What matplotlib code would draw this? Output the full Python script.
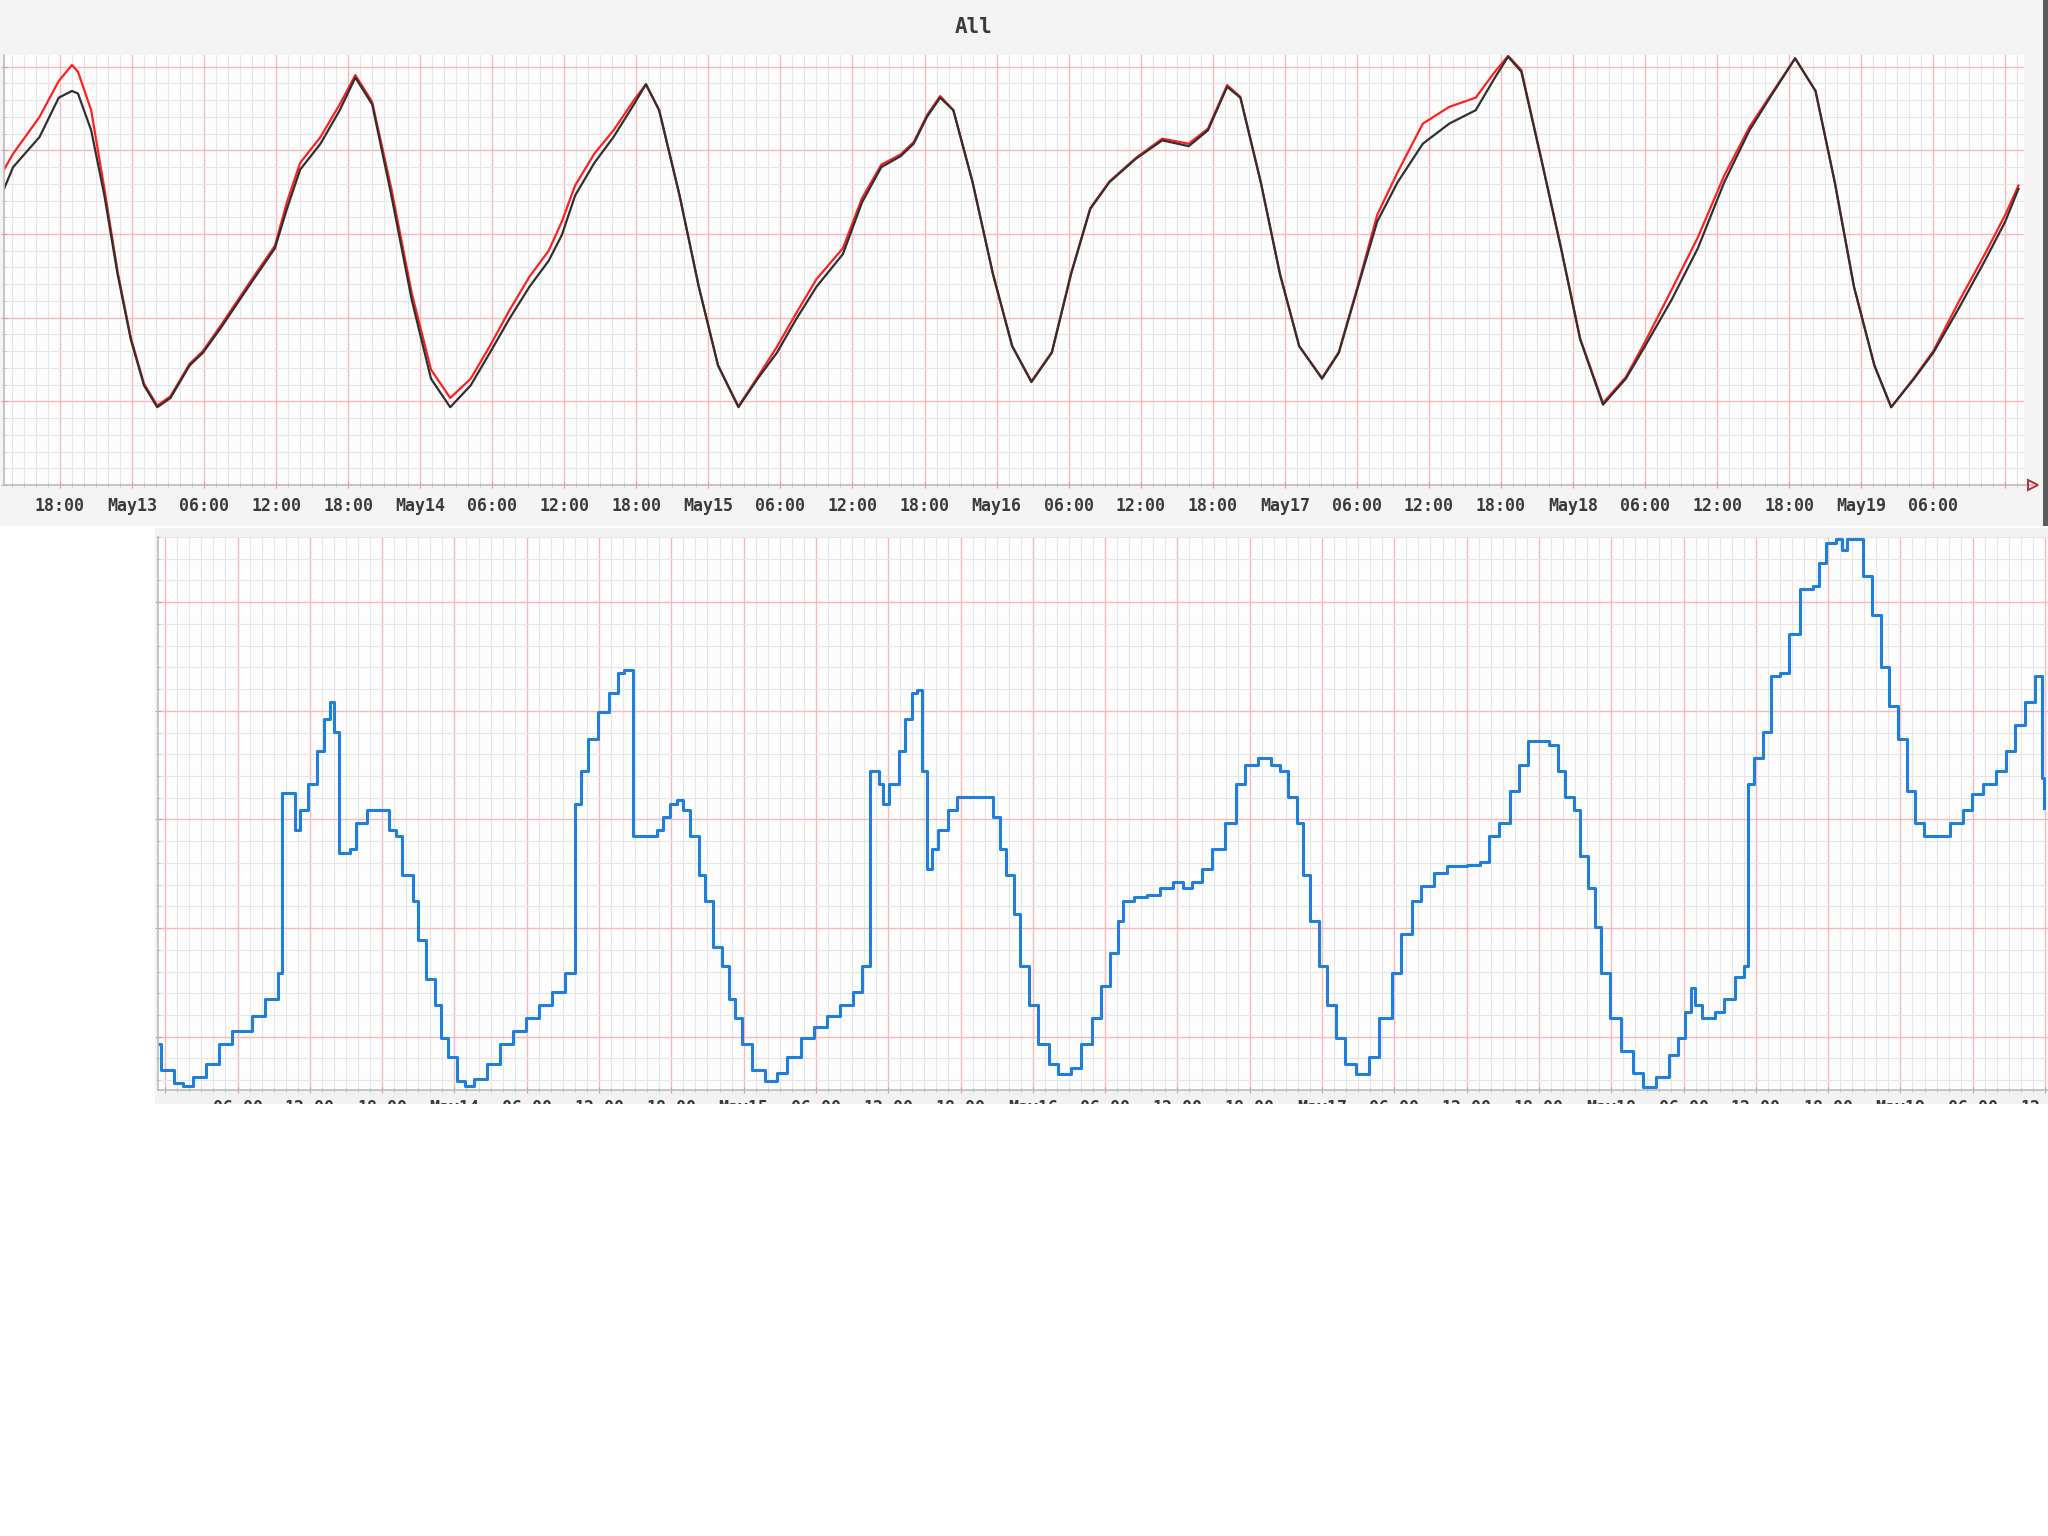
import matplotlib
matplotlib.use("Agg")
import matplotlib.pyplot as plt
from matplotlib.patches import Rectangle
from matplotlib.ticker import MultipleLocator, FixedLocator

# hours relative to May13 00:00
top_hours = [-10.66, -9.9, -7.7, -6.1, -5.0, -4.5, -3.4, -2.3, -1.2, -0.1, 1.0, 2.1, 3.2, 4.8, 5.9,
             7.5, 9.7, 11.9, 12.9, 14.0, 15.7, 17.3, 18.6, 20.0, 21.6, 23.3, 24.9, 26.5, 28.2, 29.8,
             31.4, 33.1, 34.7, 35.8, 36.9, 38.5, 40.1, 41.8, 42.8, 43.9, 45.6, 47.2, 48.8, 50.5, 52.1,
             53.7, 55.3, 57.0, 59.2, 60.8, 62.4, 64.0, 65.1, 66.2, 67.3, 68.4, 70.0, 71.7, 73.3, 74.9,
             76.6, 78.2, 79.8, 81.4, 83.6, 85.8, 88.0, 89.6, 91.2, 92.3, 94.0, 95.6, 97.2, 99.1, 100.5,
             102.1, 103.7, 105.4, 107.5, 109.7, 111.9, 113.5, 114.6, 115.7, 117.3, 119.0, 120.6, 122.5,
             124.4, 126.0, 128.2, 130.4, 132.6, 134.7, 136.4, 138.5, 140.2, 141.8, 143.4, 145.1, 146.5,
             148.4, 150.0, 152.2, 154.3, 156.0, 157.1]
top_black = [35.4, 38.0, 41.6, 46.3, 47.1, 46.8, 42.4, 34.6, 25.2, 17.4, 11.9, 9.3, 10.4, 14.3, 15.8,
             19.0, 23.7, 28.3, 33.0, 37.7, 40.8, 44.8, 48.7, 45.5, 34.6, 22.1, 12.7, 9.3, 11.9, 15.8,
             19.8, 23.7, 26.8, 29.9, 34.6, 38.5, 41.6, 45.5, 47.9, 44.8, 34.6, 23.7, 14.3, 9.3, 12.7,
             15.8, 19.8, 23.7, 27.6, 33.8, 38.0, 39.3, 40.8, 44.0, 46.3, 44.8, 36.2, 25.2, 16.6, 12.3,
             15.8, 25.2, 33.0, 36.2, 39.0, 41.2, 40.5, 42.4, 47.6, 46.3, 36.2, 25.2, 16.6, 12.7, 15.8,
             23.7, 31.5, 36.2, 40.8, 43.2, 44.8, 48.7, 51.2, 49.4, 39.3, 28.3, 17.4, 9.6,
             12.7, 16.6, 22.1, 28.3, 36.2, 42.4, 46.3, 51.0, 47.1, 36.2, 23.7, 14.3, 9.3,
             12.7, 15.8, 21.3, 26.8, 31.5, 35.4]
top_red = [37.7, 39.6, 44.0, 48.3, 50.2, 49.4, 44.8, 35.4, 25.5, 17.6, 12.1, 9.5, 10.6, 14.5, 16.0,
           19.3, 24.0, 28.6, 33.8, 38.5, 41.6, 45.5, 49.0, 45.8, 35.4, 22.9, 13.8, 10.4, 12.7, 16.6,
           20.8, 24.9, 28.0, 31.5, 35.8, 39.6, 42.4, 46.0, 47.9, 44.8, 34.6, 23.7, 14.3, 9.4, 12.9,
           16.5, 20.5, 24.6, 28.3, 34.3, 38.3, 39.5, 41.0, 44.2, 46.5, 44.8, 36.2, 25.2, 16.6, 12.4,
           15.9, 25.3, 33.1, 36.3, 39.1, 41.4, 40.8, 42.6, 47.8, 46.4, 36.2, 25.2, 16.6, 12.8, 15.9,
           23.9, 32.3, 37.4, 43.2, 45.2, 46.3, 49.4, 51.3, 49.6, 39.4, 28.4, 17.5, 9.8,
           12.9, 17.1, 23.3, 29.6, 37.0, 42.8, 46.5, 51.0, 47.1, 36.2, 23.7, 14.3, 9.3,
           12.8, 16.0, 22.1, 27.6, 32.3, 35.8]

blue_hours = [-0.6, -0.39, 0.69, 1.45, 2.32, 3.40, 4.49, 5.57, 7.20, 8.28, 9.37, 9.69, 10.78, 11.21,
              11.86, 12.62, 13.16, 13.70, 14.03, 14.46, 15.33, 15.87, 16.74, 18.58, 19.12, 19.66,
              20.53, 20.96, 21.62, 22.37, 22.92, 23.46, 24.22, 24.87, 25.63, 26.71, 27.79, 28.88,
              29.96, 31.05, 32.13, 33.21, 33.97, 34.51, 35.06, 35.92, 36.79, 37.55, 38.09, 38.85,
              40.80, 41.34, 41.89, 42.43, 42.97, 43.51, 44.27, 44.81, 45.46, 46.22, 46.76, 47.31,
              47.85, 48.72, 49.80, 50.77, 51.64, 52.73, 53.81, 54.89, 55.98, 57.06, 57.82, 58.47,
              59.23, 59.56, 60.10, 60.86, 61.40, 61.94, 62.37, 62.81, 63.24, 63.67, 64.11, 64.98,
              65.73, 68.66, 69.31, 69.74, 70.40, 70.94, 71.70, 72.45, 73.32, 74.08, 75.16, 76.03,
              76.90, 77.66, 78.42, 79.07, 79.50, 80.37, 81.45, 82.54, 83.62, 84.49, 85.25, 86.00,
              86.87, 87.96, 88.82, 89.58, 90.67, 91.75, 92.51, 93.16, 93.92, 94.46, 95.00, 95.76,
              96.41, 97.17, 97.93, 98.80, 99.88, 100.75, 101.83, 102.59, 103.46, 104.22, 105.30,
              106.38, 108.01, 109.09, 109.85, 110.72, 111.59, 112.35, 113.10, 114.84, 115.60,
              116.14, 116.90, 117.44, 118.09, 118.63, 119.18, 119.93, 120.80, 121.78, 122.64,
              123.73, 124.81, 125.57, 126.11, 126.65, 126.98, 127.52, 128.61, 129.36, 130.23,
              130.99, 131.32, 131.86, 132.62, 133.27, 134.03, 134.79, 135.66, 136.74, 137.28,
              137.82, 138.69, 139.12, 139.56, 140.86, 141.62, 142.37, 143.02, 143.78, 144.54,
              145.19, 145.95, 148.12, 149.20, 149.96, 150.83, 151.91, 152.78, 153.54, 154.30,
              155.17, 155.71, 155.93]
blue_vals = [9.30, 6.90, 5.71, 5.47, 6.30, 7.50, 9.30, 10.50, 11.93, 13.49, 15.89, 32.42, 29.07, 30.86,
             33.26, 36.26, 39.25, 40.81, 38.05, 26.91, 27.27, 29.67, 30.86, 29.07, 28.47, 24.87,
             22.48, 18.88, 15.29, 12.89, 9.90, 8.10, 5.95, 5.47, 6.07, 7.50, 9.30, 10.50,
             11.70, 12.89, 14.09, 15.89, 31.46, 34.46, 37.45, 39.85, 41.65, 43.44, 43.80, 28.47,
             29.07, 30.27, 31.46, 31.82, 30.86, 28.47, 24.87, 22.48, 18.29, 16.49, 13.49, 11.70,
             9.30, 6.90, 5.95, 6.66, 8.10, 9.90, 10.86, 11.93, 12.89, 14.09, 16.49, 34.46,
             33.26, 31.46, 33.26, 36.26, 39.25, 41.65, 41.89, 34.46, 25.47, 27.27, 29.07, 30.86,
             32.06, 30.27, 27.27, 24.87, 21.28, 16.49, 12.89, 9.30, 7.50, 6.55, 7.15, 9.30,
             11.70, 14.69, 17.69, 20.68, 22.48, 22.84, 23.08, 23.68, 24.28, 23.68, 24.28, 25.47,
             27.27, 29.67, 33.26, 35.06, 35.66, 35.06, 34.46, 32.06, 29.67, 24.87, 20.68, 16.49,
             12.89, 9.90, 7.50, 6.55, 8.10, 11.70, 15.89, 19.48, 22.48, 23.92, 25.11,
             25.71, 25.83, 26.07, 28.47, 29.67, 32.66, 35.06, 37.21, 36.85, 34.46,
             32.06, 30.86, 26.67, 23.68, 20.08, 15.89, 11.70, 8.70, 6.66, 5.35,
             6.30, 8.34, 9.90, 12.29, 14.45, 12.89, 11.70, 12.29, 13.49, 15.53,
             16.49, 33.26, 35.66, 38.05, 43.20, 43.44, 47.04, 51.23, 51.47, 53.63,
             55.42, 55.78, 54.82, 55.78, 52.43, 48.83, 44.04, 40.45, 37.45, 32.66,
             29.67, 28.47, 29.67, 30.86, 32.30, 33.26, 34.46, 36.26, 38.65, 40.81,
             43.20, 33.86, 31.10]

top_ticks = list(range(-6, 157, 6))
bottom_ticks = list(range(0, 169, 6))

W, H = 2048, 1536


def hour_label(h):
    if h % 24 == 0:
        return 'May%d' % (13 + h // 24)
    return '%02d:00' % (h % 24)


def px_rect(x0, y0, x1, y1, color, z):
    # pixel box measured from the top-left corner
    return Rectangle((x0 / W, 1 - y1 / H), (x1 - x0) / W, (y1 - y0) / H,
                     transform=fig.transFigure, facecolor=color, edgecolor='none', zorder=z)


def style_axes(ax, ticks, labels, pad):
    ax.set_facecolor('#fdfdfd')
    ax.set_axisbelow(True)
    ax.xaxis.set_major_locator(FixedLocator(ticks))
    ax.set_xticklabels(labels)
    ax.xaxis.set_minor_locator(MultipleLocator(1))
    ax.yaxis.set_major_locator(MultipleLocator(10))
    ax.yaxis.set_minor_locator(MultipleLocator(2))
    ax.grid(which='minor', color='#e6e6e6', lw=0.8)
    ax.grid(which='major', color='#f6b9bc', lw=1.0)
    for s in ('top', 'right'):
        ax.spines[s].set_visible(False)
    for s in ('left', 'bottom'):
        ax.spines[s].set_color('#bcbcbc')
        ax.spines[s].set_linewidth(1.2)
    ax.tick_params(which='major', direction='inout', length=5, color='#e89098',
                   labelsize=12, labelcolor='#3a3a3a', pad=pad)
    ax.tick_params(which='minor', direction='inout', length=3, color='#bcbcbc')
    ax.tick_params(axis='y', labelleft=False)
    for t in ax.get_xticklabels():
        t.set_family('DejaVu Sans Mono')
        t.set_weight('bold')


fig = plt.figure(figsize=(W / 100, H / 100), dpi=100, facecolor='white')

# panel backgrounds
fig.patches.append(px_rect(0, 0, 2043, 526, '#f4f4f4', -2))
fig.patches.append(px_rect(2043, 0, 2048, 526, '#5c5c5c', -2))
fig.patches.append(px_rect(155, 528, 2048, 1104, '#f2f2f2', -2))

# top graph
ax1 = fig.add_axes([4 / W, 1 - 485 / H, 2020 / W, 430 / H])
ax1.plot(top_hours, top_red, color='#ff2020', lw=1.6)
ax1.plot(top_hours, top_black, color='#303030', lw=1.6)
ax1.set_xlim(-10.66, 157.56)
ax1.set_ylim(0, 51.4)
style_axes(ax1, top_ticks, [hour_label(h) if h < 156 else '' for h in top_ticks], 6)
ax1.plot([1.0, 1.0045], [0, 0], transform=ax1.transAxes, color='#bcbcbc', lw=1.2, clip_on=False)
ax1.plot([1.0045], [0], transform=ax1.transAxes, marker='>', ms=7, mfc='none',
         mec='#b03040', mew=1.4, clip_on=False)
fig.text(974 / W, 1 - 27 / H, 'All', ha='center', va='center', fontsize=15,
         family='DejaVu Sans Mono', weight='bold', color='#3a3a3a')

# bottom graph, cut off at the right edge of the picture
x_lo, x_hi = -0.6, 168
ax2 = fig.add_axes([158 / W, 1 - 1090 / H, (x_hi - x_lo) * 12.05 / W, 553 / H])
ax2.plot(blue_hours, blue_vals, color='#1f7fdb', lw=2.2, drawstyle='steps-post')
ax2.set_xlim(x_lo, x_hi)
ax2.set_ylim(5.1, 56.0)
style_axes(ax2, bottom_ticks, ['' if h == 0 else hour_label(h) for h in bottom_ticks], 4)

# the lower half of the bottom labels is hidden
fig.patches.append(px_rect(0, 1104, 2048, 1536, 'white', 10))

fig.savefig('out.png', dpi=100, facecolor='white')
